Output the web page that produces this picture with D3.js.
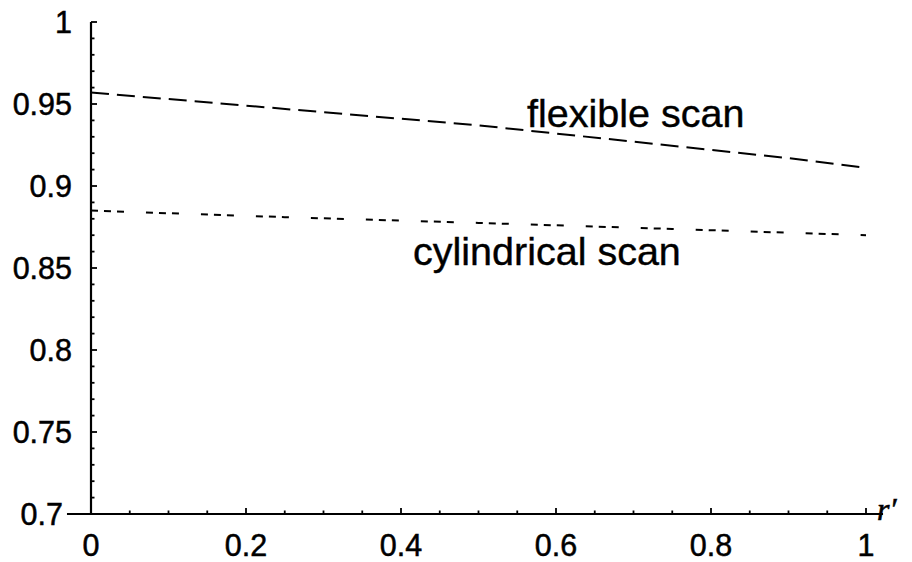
<!DOCTYPE html>
<html><head><meta charset="utf-8">
<script src="https://cdn.jsdelivr.net/npm/d3@7"></script>
<style>body{margin:0;background:#fff}svg{display:block}</style>
</head><body>
<script>
const xFlex = [0, 0.1, 0.2, 0.3, 0.4, 0.5, 0.6, 0.7, 0.8, 0.9, 1.0];
const yFlex = [0.957, 0.953, 0.949, 0.945, 0.941, 0.937, 0.932, 0.927, 0.922, 0.917, 0.911];
const xCyl = [0, 0.25, 0.5, 0.75, 1.0];
const yCyl = [0.885, 0.881, 0.8775, 0.8738, 0.870];
const xTicks = [0, 0.2, 0.4, 0.6, 0.8, 1];
const xTickLabels = ["0", "0.2", "0.4", "0.6", "0.8", "1"];
const yTicks = [0.7, 0.75, 0.8, 0.85, 0.9, 0.95, 1];
const yTickLabels = ["0.7", "0.75", "0.8", "0.85", "0.9", "0.95", "1"];
const seriesLabels = ["flexible scan", "cylindrical scan"];
const xAxisLabel = "r";

const W = 912, H = 562;
const svg = d3.select("body").append("svg").attr("width", W).attr("height", H);
const x = d3.scaleLinear().domain([0, 1]).range([91, 866]);
const y = d3.scaleLinear().domain([0.7, 1]).range([514, 22]);
const ink = "#000";

// axes lines
svg.append("line").attr("x1", x(-0.031)).attr("x2", x(1.022)).attr("y1", y(0.7)).attr("y2", y(0.7))
  .attr("stroke", ink).attr("stroke-width", 2.2);
svg.append("line").attr("x1", x(0)).attr("x2", x(0)).attr("y1", y(0.7)).attr("y2", y(1))
  .attr("stroke", ink).attr("stroke-width", 2.2);

// y ticks
const yMinor = d3.range(70, 101).map(v => v / 100);
svg.selectAll(".ym").data(yMinor).enter().append("line")
  .attr("x1", x(0)).attr("x2", d => x(0) + (Math.round(d * 100) % 5 === 0 ? 6 : 3.5))
  .attr("y1", d => y(d)).attr("y2", d => y(d)).attr("stroke", ink).attr("stroke-width", 1.8);
// x ticks
const xMinor = d3.range(0, 21).map(v => v / 20);
svg.selectAll(".xm").data(xMinor).enter().append("line")
  .attr("x1", d => x(d)).attr("x2", d => x(d))
  .attr("y1", y(0.7)).attr("y2", (d, i) => y(0.7) - (i % 4 === 0 ? 6 : 3.5))
  .attr("stroke", ink).attr("stroke-width", 1.8);

const font = "'Liberation Sans', Arial, sans-serif";
svg.selectAll(".yl").data(yTicks).enter().append("text")
  .attr("x", (d, i) => i === 0 ? 63 : 72).attr("y", d => y(d)).attr("dy", "0.36em")
  .attr("text-anchor", "end").attr("font-family", font).attr("font-size", 30.5)
  .attr("stroke", ink).attr("stroke-width", 0.5)
  .text((d, i) => yTickLabels[i]);
svg.selectAll(".xl").data(xTicks).enter().append("text")
  .attr("x", d => x(d)).attr("y", 556)
  .attr("text-anchor", "middle").attr("font-family", font).attr("font-size", 30.5)
  .attr("stroke", ink).attr("stroke-width", 0.5)
  .text((d, i) => xTickLabels[i]);

svg.append("text").attr("x", 877).attr("y", 520)
  .attr("font-family", "'Liberation Serif', serif").attr("font-style", "italic").attr("font-size", 32)
  .attr("stroke", ink).attr("stroke-width", 0.6)
  .text(xAxisLabel + "\u2032");

const line = d3.line().x(d => x(d[0])).y(d => y(d[1]));
svg.append("path").datum(xFlex.map((v, i) => [v, yFlex[i]])).attr("d", line)
  .attr("fill", "none").attr("stroke", ink).attr("stroke-width", 2).attr("stroke-dasharray", "18,8");
svg.append("path").datum(xCyl.map((v, i) => [v, yCyl[i]])).attr("d", line)
  .attr("fill", "none").attr("stroke", ink).attr("stroke-width", 2).attr("stroke-dasharray", "7,6,7,6,7,22");

svg.append("text").attr("x", 527).attr("y", 127).attr("font-family", font).attr("font-size", 39.5)
  .attr("stroke", ink).attr("stroke-width", 0.4).text(seriesLabels[0]);
svg.append("text").attr("x", 413).attr("y", 265).attr("font-family", font).attr("font-size", 39.5)
  .attr("stroke", ink).attr("stroke-width", 0.4).text(seriesLabels[1]);
</script>
</body></html>
